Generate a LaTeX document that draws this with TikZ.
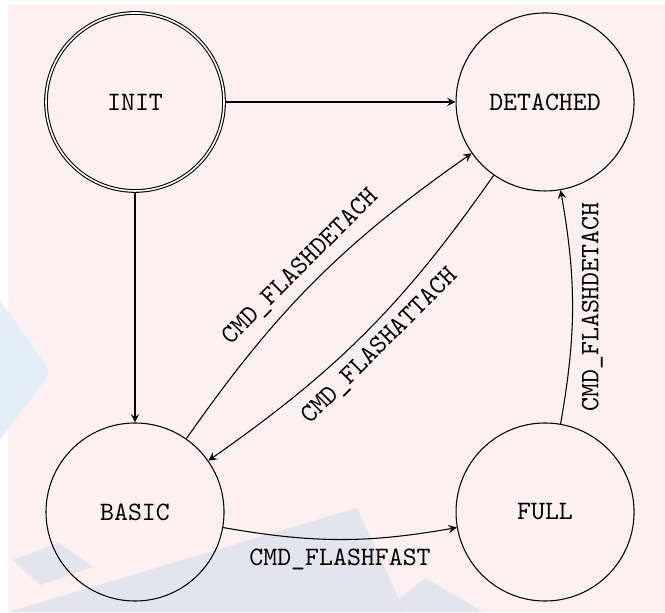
\documentclass[tikz,border=0pt]{standalone}
\usepackage{amsmath}
\usepackage{xcolor}
\usepackage{tikz}
\usetikzlibrary{positioning}

\definecolor{bgpink}{HTML}{FDF0F0}
\definecolor{wmblue}{HTML}{E4EEF8}
\definecolor{wmgray}{HTML}{E4E4EE}

\tikzset{
  stnode/.style={draw, circle, minimum size=2.355cm, font=\ttfamily},
  trans/.style={->, >=stealth, font=\ttfamily}
}

\begin{document}
\begin{tikzpicture}
\useasboundingbox (-1.786,-6.747) rectangle (7.011,1.349);
% background and watermark, in pixel units
\begin{scope}[x=0.013229cm, y=-0.013229cm, shift={(-1.786cm,1.349cm)}]
\fill[white] (0,0) rectangle (665,612);
\fill[bgpink] (8,5) rectangle (665,612);
\fill[wmblue] (0,300) -- (42,360) .. controls (50,372) .. (42,384) -- (0,440) -- cycle;
\fill[wmgray] (13,560) -- (58,543) -- (93,567) -- (40,585) -- cycle;
\fill[wmgray] (8,612) -- (357,508) -- (405,612) -- cycle;
\fill[wmgray] (383,612) -- (425,578) -- (483,612) -- cycle;
\end{scope}
% states
\node[stnode, double] (init) at (0,0) {INIT};
\node[stnode] (detached) at (5.424,0) {DETACHED};
\node[stnode] (basic) at (0,-5.424) {BASIC};
\node[stnode] (full) at (5.424,-5.424) {FULL};
% transitions
\draw[trans] (init) -- (detached);
\draw[trans] (init) -- (basic);
\draw[trans] (basic) to[bend left=10] node[above, sloped] {CMD\_FLASHDETACH} (detached);
\draw[trans] (detached) to[bend left=10] node[below, sloped] {CMD\_FLASHATTACH} (basic);
\draw[trans] (basic) to[bend right=10] node[below] {CMD\_FLASHFAST} (full);
\draw[trans] (full) to[bend right=10] node[below, sloped] {CMD\_FLASHDETACH} (detached);
\end{tikzpicture}
\end{document}
